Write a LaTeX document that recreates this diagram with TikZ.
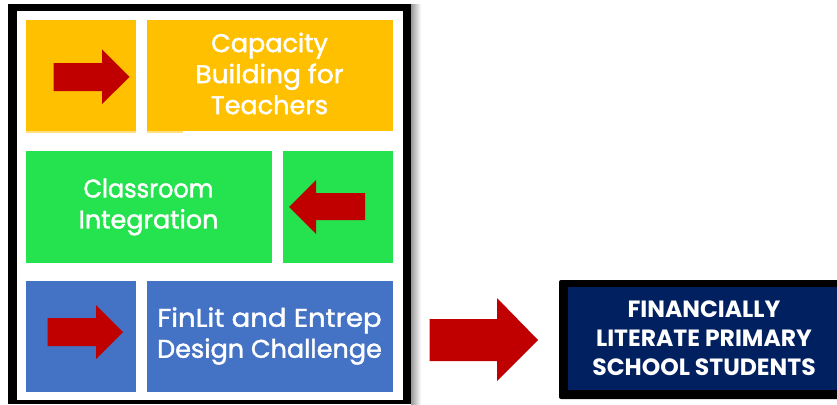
\documentclass[tikz,border=0pt]{standalone}
\usepackage{graphicx}
\usepackage{fontspec}
\setmainfont{Poppins}
\newfontfamily\lab[FakeBold=1.6]{Poppins}
\definecolor{yel}{HTML}{FFC000}
\definecolor{grn}{HTML}{24E34E}
\definecolor{blu}{HTML}{4472C4}
\definecolor{nav}{HTML}{002060}
\definecolor{red1}{HTML}{C00000}
\tikzset{
  panel/.style={inner sep=0pt,outer sep=0pt,align=center,text=white,font=\lab\fontsize{25.5}{31}\selectfont},
  redarrow/.style={fill=red1,draw=none},
}
\newcommand{\panelbox}[6]{% name, x0,y0,x1,y1,color
  \path[fill=#6] (#2,#3) rectangle (#4,#5) coordinate[pos=.5] (#1);}
\begin{document}
\begin{tikzpicture}[x=1pt,y=-1pt]
\useasboundingbox (0,0) rectangle (837,404);
\fill[white] (0,0) rectangle (837,404);
% frame with soft shadow on the right
\shade[left color=black!40,right color=white] (411,5) rectangle (421,404);
\fill[black] (7.5,4) rectangle (411,404);
\fill[white] (16.5,11.5) rectangle (403,400);
% panels
\panelbox{ya}{26}{20.5}{136}{131}{yel}
\panelbox{yb}{147}{20.5}{392.5}{131}{yel}
\fill[yel!50] (26,131) rectangle (136,132.5);
\fill[yel!50] (147,131) rectangle (183,132.5);
\panelbox{ga}{26}{150.5}{271.5}{262.5}{grn}
\panelbox{gb}{283}{150.5}{392.5}{262.5}{grn}
\panelbox{ba}{26}{281}{136}{391.5}{blu}
\panelbox{bb}{147}{281}{392.5}{391.5}{blu}
% labels
\node[panel] (t1) at (269.5,73.5) {Capacity\\\scalebox{1.04}[1]{Building for}\\Teachers};
\node[panel] (t2) at (148.5,207) {\scalebox{.94}[1]{Classroom}\\Integration};
\node[panel] (t3) at (269.5,336) {\scalebox{1.08}[1]{FinLit and Entrep}\\Design Challenge};
% arrows
\fill[redarrow] (53.5,63) -- (102,63) -- (102,49.5) -- (129.5,77) -- (102,104) -- (102,91) -- (53.5,91) -- cycle;
\fill[redarrow] (365,193) -- (316,193) -- (316,180) -- (289,207) -- (316,234) -- (316,220) -- (365,220) -- cycle;
\fill[redarrow] (47.5,318) -- (96,318) -- (96,305) -- (123,332) -- (96,359) -- (96,346) -- (47.5,346) -- cycle;
\fill[redarrow] (429.5,319) -- (497,319) -- (497,298) -- (538,340) -- (497,381) -- (497,361) -- (429.5,361) -- cycle;
% result box
\fill[black,rounded corners=2pt] (559,280) rectangle (840,399);
\fill[nav] (567.7,287) rectangle (837,390);
\node[panel,font=\bfseries\fontsize{23.5}{29}\selectfont] (t4) at (704,338.5) {FINANCIALLY\\LITERATE PRIMARY\\SCHOOL STUDENTS};
\end{tikzpicture}
\end{document}
